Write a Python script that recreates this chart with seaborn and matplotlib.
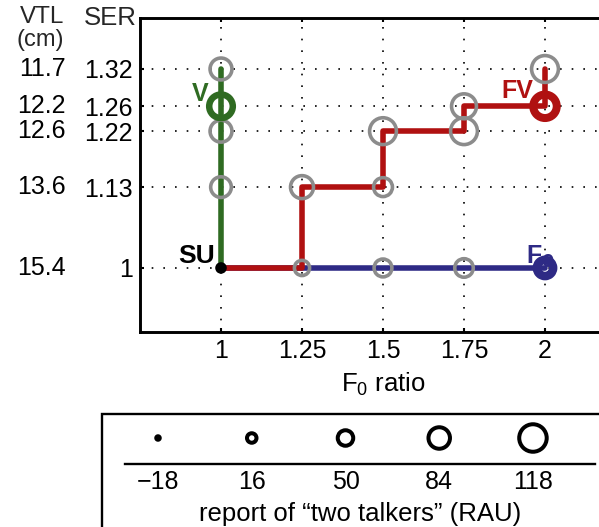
import numpy as np
import pandas as pd
import matplotlib
matplotlib.use("Agg")
import matplotlib.pyplot as plt
from matplotlib.patches import Rectangle
import seaborn as sns

# ---------------- data ----------------
f0_ticks = [1, 1.25, 1.5, 1.75, 2]
f0_ticklabels = ["1", "1.25", "1.5", "1.75", "2"]
ser_ticks = [1, 1.13, 1.22, 1.26, 1.32]
ser_labels = ["1", "1.13", "1.22", "1.26", "1.32"]
vtl_labels = ["15.4", "13.6", "12.6", "12.2", "11.7"]

# paths
v_x = [1, 1]
v_y = [1, 1.32]
f_x = [1, 2]
f_y = [1, 1]
fv_x = [1, 1.25, 1.25, 1.5, 1.5, 1.75, 1.75, 2, 2]
fv_y = [1, 1, 1.13, 1.13, 1.22, 1.22, 1.26, 1.26, 1.32]

# grey (intermediate) conditions: F0 ratio, SER, report of two talkers (RAU)
grey_x = [1, 1, 1, 1.25, 1.5, 1.75, 1.25, 1.5, 1.5, 1.75, 1.75, 2]
grey_y = [1.13, 1.22, 1.32, 1, 1, 1, 1.13, 1.13, 1.22, 1.22, 1.26, 1.32]
grey_rau = [77, 84, 84, 46, 61, 65, 90, 67, 112, 112, 101, 112]

# named conditions
su_x, su_y, su_rau = 1, 1, 5
v_pt_x, v_pt_y, v_rau = 1, 1.26, 110
fv_pt_x, fv_pt_y, fv_rau = 2, 1.26, 118
f_pt_x, f_pt_y, f_rau = 2, 1, 80

legend_rau = [-18, 16, 50, 84, 118]
legend_labels = ["\u221218", "16", "50", "84", "118"]

# ---------------- style ----------------
sns.set_theme(style="white")
plt.rcParams["font.family"] = ["Liberation Sans", "DejaVu Sans"]
plt.rcParams["mathtext.default"] = "regular"

W, H = 599, 527
PT = 0.72  # points per pixel at dpi 100
NUM_FS = 18
TXT_FS = 18.5

GREY = "#8c8c8c"
GREEN = "#2f6b22"
RED = "#b01111"
BLUE = "#2e2a85"


def diam_px(r):
    return 13.5 + (r - 16) / 5.67


def s_area(r, lw_px):
    d = max(diam_px(r) - lw_px, 1.0)
    return (d * PT) ** 2


fig = plt.figure(figsize=(W / 100, H / 100), dpi=100)


def fx(p):
    return p / W


def fy(p):
    return 1 - p / H


ax = fig.add_axes([fx(140), fy(332), 486 / W, 314 / H])
ax.set_xlim(0.75, 2.25)
ax.set_ylim(0.897, 1.402)

ax.set_xticks(f0_ticks)
ax.set_xticklabels(f0_ticklabels)
ax.set_yticks(ser_ticks)
ax.set_yticklabels(ser_labels)
ax.grid(True, color="black", linestyle=(0, (1, 6)), linewidth=1.2)
ax.set_axisbelow(True)

for side in ["left", "top", "bottom"]:
    ax.spines[side].set_visible(True)
    ax.spines[side].set_linewidth(2.1)
    ax.spines[side].set_color("black")
ax.spines["right"].set_visible(False)
ax.tick_params(direction="in", length=3, width=1.5, top=True, left=True,
               bottom=True, labelsize=NUM_FS, colors="black", pad=5)
ax.tick_params(axis="x", pad=5)

# lines
sns.lineplot(x=f_x, y=f_y, ax=ax, color=BLUE, linewidth=4, sort=False,
             estimator=None, zorder=3)
sns.lineplot(x=v_x, y=v_y, ax=ax, color=GREEN, linewidth=4, sort=False,
             estimator=None, zorder=3)
sns.lineplot(x=fv_x, y=fv_y, ax=ax, color=RED, linewidth=4, sort=False,
             estimator=None, zorder=4)

# text labels (under markers)
lab_kw = dict(fontweight="bold", textcoords="offset points",
              xycoords="data", zorder=5)
ax.annotate("SU", xy=(su_x, su_y), xytext=(-6 * PT, 12 * PT), ha="right",
            va="center", color="black", fontsize=19, **lab_kw)
ax.annotate("V", xy=(v_pt_x, v_pt_y), xytext=(-13 * PT, 12 * PT), ha="right",
            va="center", color=GREEN, fontsize=18, **lab_kw)
ax.annotate("FV", xy=(fv_pt_x, fv_pt_y), xytext=(-12 * PT, 15 * PT),
            ha="right", va="center", color=RED, fontsize=18, **lab_kw)
ax.annotate(r"F$_\mathbf{0}$", xy=(f_pt_x, f_pt_y), xytext=(-19 * PT, 11 * PT),
            ha="left", va="center", color=BLUE, fontsize=18, **lab_kw)

# grey markers
grey_lw = 3.6
sns.scatterplot(x=grey_x, y=grey_y, ax=ax,
                s=[s_area(r, grey_lw) for r in grey_rau],
                facecolor="none", edgecolor=GREY, linewidth=grey_lw * PT,
                zorder=6, legend=False)

# coloured markers
for (px_, py_, r, c, lw) in [(v_pt_x, v_pt_y, v_rau, GREEN, 6.5),
                             (fv_pt_x, fv_pt_y, fv_rau, RED, 8),
                             (f_pt_x, f_pt_y, f_rau, BLUE, 8.5)]:
    sns.scatterplot(x=[px_], y=[py_], ax=ax, s=s_area(r, lw),
                    facecolor="none", edgecolor=c, linewidth=lw * PT,
                    zorder=7, legend=False)

sns.scatterplot(x=[su_x], y=[su_y], ax=ax, s=(diam_px(su_rau) * PT) ** 2,
                color="black", edgecolor="none", linewidth=0, zorder=8,
                legend=False)

ax.set_xlabel(r"F$_0$ ratio", fontsize=TXT_FS, labelpad=6, color="black")
ax.set_ylabel("")

# VTL labels
for yv, lab in zip(ser_ticks, vtl_labels):
    ax.annotate(lab, xy=(0, yv), xycoords=("axes fraction", "data"),
                xytext=(-74 * PT, 0), textcoords="offset points",
                ha="right", va="center", fontsize=NUM_FS, color="black")

fig.text(fx(64), fy(17), "VTL", ha="right", va="center", fontsize=17.5)
fig.text(fx(64), fy(40), "(cm)", ha="right", va="center", fontsize=17)
fig.text(fx(137), fy(18), "SER", ha="right", va="center", fontsize=TXT_FS)

# ---------------- size legend ----------------
fig.add_artist(Rectangle((fx(102), -0.05), 1.0, (1 - 414 / H) + 0.05,
                         transform=fig.transFigure, fill=False,
                         edgecolor="black", linewidth=1.7, clip_on=False))

ax2 = fig.add_axes([fx(125), fy(464), 470 / W, 40 / H])
ax2.set_xlim(-29.97, 140.5)
ax2.set_ylim(0, 1)
ax2.patch.set_alpha(0)
for side in ["left", "top", "right"]:
    ax2.spines[side].set_visible(False)
ax2.spines["bottom"].set_linewidth(1.7)
ax2.spines["bottom"].set_color("black")
ax2.set_xticks(legend_rau)
ax2.set_xticklabels(legend_labels)
ax2.set_yticks([])
ax2.tick_params(axis="x", direction="in", length=4, width=1.5,
                labelsize=NUM_FS, pad=4, colors="black")
leg_lw = 4
leg_face = ["black"] + ["none"] * (len(legend_rau) - 1)
sns.scatterplot(x=legend_rau, y=[0.65] * len(legend_rau), ax=ax2,
                s=[s_area(r, leg_lw) for r in legend_rau],
                facecolor=leg_face, edgecolor="black", linewidth=leg_lw * PT,
                legend=False, clip_on=False)
ax2.set_xlabel("report of \u201ctwo talkers\u201d (RAU)", fontsize=TXT_FS,
               labelpad=6, color="black")
ax2.set_ylabel("")

fig.savefig("out.png", dpi=100)
